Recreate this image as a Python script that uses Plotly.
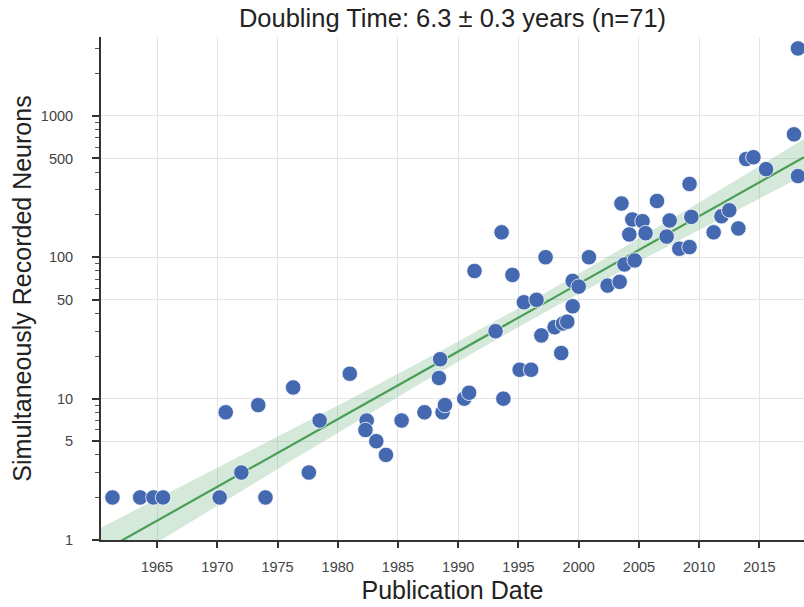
import numpy as np
import plotly.graph_objects as go

# Publication year of each recording study
years = [1961.3, 1963.6, 1964.7, 1965.5, 1970.2, 1970.7, 1972.0, 1973.4, 1974.0, 1976.3,
         1977.6, 1978.5, 1981.0, 1982.4, 1982.3, 1983.2, 1984.0, 1985.3, 1987.2, 1988.7,
         1988.9, 1988.4, 1988.5, 1990.5, 1990.9, 1991.35, 1993.1, 1993.6, 1993.75, 1994.5,
         1995.1, 1995.45, 1996.05, 1996.5, 1996.9, 1997.25, 1998.0, 1998.55, 1998.7, 1999.05,
         1999.5, 1999.5, 2000.0, 2000.85, 2002.4, 2003.4, 2003.55, 2003.8, 2004.2, 2004.45,
         2004.65, 2005.3, 2005.55, 2006.5, 2007.3, 2007.55, 2008.35, 2009.2, 2009.2, 2009.35,
         2011.2, 2011.85, 2012.5, 2013.25, 2013.9, 2014.5, 2015.55, 2017.87, 2018.2, 2018.2]
# Number of simultaneously recorded neurons
neurons = [2, 2, 2, 2, 2, 8, 3, 9, 2, 12,
           3, 7, 15, 7, 6, 5, 4, 7, 8, 8,
           9, 14, 19, 10, 11, 80, 30, 150, 10, 75,
           16, 48, 16, 50, 28, 100, 32, 21, 34, 35,
           68, 45, 62, 100, 63, 67, 240, 89, 145, 185,
           95, 180, 148, 250, 140, 182, 115, 118, 330, 193,
           150, 195, 215, 160, 495, 510, 420, 740, 3000, 375]

y_tick_vals = [1, 5, 10, 50, 100, 500, 1000]
y_tick_text = ["1", "5", "10", "50", "100", "500", "1000"]
x_tick_vals = [1965, 1970, 1975, 1980, 1985, 1990, 1995, 2000, 2005, 2010, 2015]
title_text = "Doubling Time: 6.3 \u00b1 0.3 years (n=71)"

x_range = [1960.35, 2018.7]
y_range_log = [0, 3.558]

# Log-linear regression with 95% confidence band
x = np.array(years)
ly = np.log10(np.array(neurons, dtype=float))
slope, intercept = np.polyfit(x, ly, 1)
n = len(x)
resid = ly - (slope * x + intercept)
s = np.sqrt(np.sum(resid ** 2) / (n - 2))
xbar = x.mean()
sxx = np.sum((x - xbar) ** 2)
xf = np.linspace(x_range[0], x_range[1], 200)
yf = slope * xf + intercept
se = s * np.sqrt(1.0 / n + (xf - xbar) ** 2 / sxx)
t = 1.994
lo = 10 ** (yf - t * se)
hi = 10 ** (yf + t * se)

minor_vals = []
for d in [1, 10, 100, 1000]:
    for m in range(2, 10):
        minor_vals.append(m * d)

fig = go.Figure()
fig.add_trace(go.Scatter(x=np.concatenate([xf, xf[::-1]]), y=np.concatenate([hi, lo[::-1]]),
                         fill="toself", fillcolor="rgba(85,168,104,0.25)", line=dict(width=0),
                         mode="lines", hoverinfo="skip", showlegend=False))
fig.add_trace(go.Scatter(x=xf, y=10 ** yf, mode="lines", line=dict(color="#4a9e56", width=2.2),
                         showlegend=False))
fig.add_trace(go.Scatter(x=years, y=neurons, mode="markers",
                         marker=dict(size=15.5, color="#4469b0", line=dict(color="white", width=0.8)),
                         showlegend=False))

font_family = "Arial, Liberation Sans, Helvetica, sans-serif"
fig.update_layout(
    width=804, height=607,
    margin=dict(l=101, r=0, t=37, b=67),
    paper_bgcolor="white", plot_bgcolor="white",
    font=dict(family=font_family, color="#333"),
    title=dict(text=title_text, x=0.5, xref="paper", xanchor="center", y=0.971, yanchor="middle",
               font=dict(size=25.5, color="#222")),
)
fig.update_xaxes(range=x_range, tickmode="array", tickvals=x_tick_vals,
                 showgrid=True, gridcolor="#e4e4e4", gridwidth=1,
                 showline=True, linecolor="#333", linewidth=2,
                 ticks="outside", ticklen=6, tickwidth=1.5, tickcolor="#333",
                 tickfont=dict(size=14.5, color="#444"), ticklabelstandoff=7,
                 title=dict(text="Publication Date", font=dict(size=25, color="#222"), standoff=7),
                 zeroline=False)
fig.update_yaxes(type="log", range=y_range_log, tickmode="array", tickvals=y_tick_vals, ticktext=y_tick_text,
                 showgrid=True, gridcolor="#e4e4e4", gridwidth=1,
                 showline=True, linecolor="#333", linewidth=2,
                 ticks="outside", ticklen=7, tickwidth=1.5, tickcolor="#333",
                 tickfont=dict(size=14.5, color="#444"), ticklabelstandoff=16,
                 minor=dict(tickmode="array", tickvals=minor_vals, ticks="outside", ticklen=4,
                            tickwidth=1, tickcolor="#555", showgrid=False),
                 title=dict(text="Simultaneously Recorded Neurons", font=dict(size=25, color="#222"), standoff=2),
                 zeroline=False)

fig.write_html("out.html")
